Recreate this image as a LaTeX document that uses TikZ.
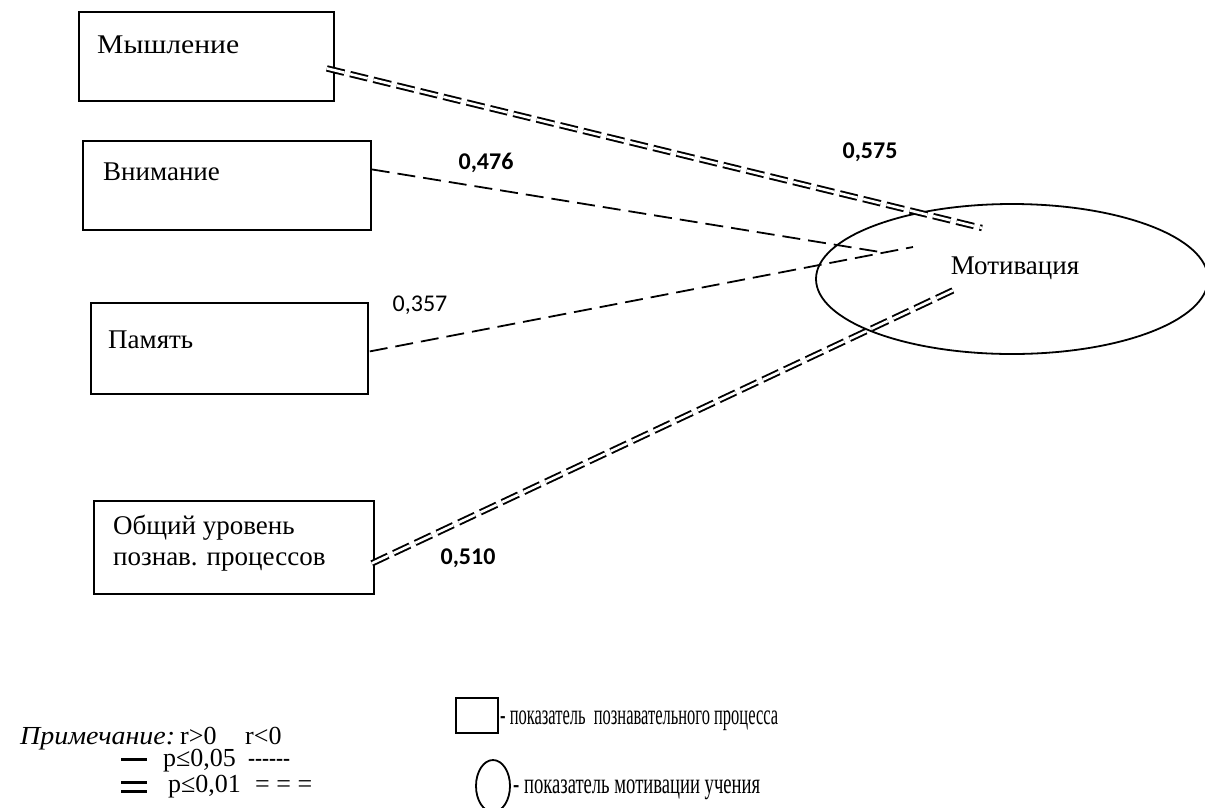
\documentclass[tikz,border=0pt]{standalone}
\usepackage{fontspec}
\setmainfont{Liberation Serif}
\newfontfamily\numfont{Carlito}
\usetikzlibrary{shapes.geometric}
\begin{document}
\begin{tikzpicture}[x=1pt,y=-1pt,
  box/.style={draw,line width=1.8pt,inner sep=0pt,anchor=north west},
  lbl/.style={anchor=west,inner sep=0pt,font=\fontsize{27}{31}\selectfont},
  num/.style={inner sep=0pt,font=\numfont\fontsize{24}{28}\selectfont},
  bnum/.style={inner sep=0pt,font=\numfont\bfseries\fontsize{24}{28}\selectfont},
  leg/.style={anchor=base west,inner sep=0pt,font=\fontsize{26}{28}\selectfont},
  sdash/.style={line width=1.8pt,dash pattern=on 18pt off 8pt},
  ddash/.style={double,double distance=2.6pt,line width=1.9pt,dash pattern=on 18pt off 6pt}]
\useasboundingbox (0,0) rectangle (1205,807);

% boxes
\node[box,minimum width=255pt,minimum height=89pt] (bm) at (78,11) {};
\node[box,minimum width=288pt,minimum height=89pt] (bv) at (82,140) {};
\node[box,minimum width=277pt,minimum height=91pt] (bp) at (90,302) {};
\node[box,minimum width=280pt,minimum height=93pt] (bo) at (93,500) {};

\node[lbl] (tm) at (97,45) {\resizebox{142pt}{\height}{Мышление}};
\node[lbl] (tv) at (103,172) {Внимание};
\node[lbl] (tp) at (108,340) {Память};
\node[lbl,align=left] (to) at (113,543) {Общий уровень\\познав. процессов};

% ellipse
\node[draw,ellipse,line width=1.8pt,minimum width=392pt,minimum height=150pt,inner sep=0pt] (mot) at (1012,279) {};
\node[lbl,anchor=center] (tmot) at (1015,268) {Мотивация};

% connectors
\draw[ddash] ([shift={(-8,12)}]bm.east) -- ([shift={(-30,-51)}]mot.center);
\draw[sdash] ([shift={(0,-16)}]bv.east) -- ([shift={(-132,-27)}]mot.center);
\draw[sdash] ([shift={(1,3)}]bp.east) -- ([shift={(-99,-32)}]mot.center);
\draw[ddash] ([shift={(-3,16)}]bo.east) -- ([shift={(-54,9)}]mot.center);

% coefficients
\node[bnum] (n575) at (870,152) {0,575};
\node[bnum] (n476) at (486,163) {0,476};
\node[num] (n357) at (420,305) {0,357};
\node[bnum] (n510) at (468,558) {0,510};

% legend
\node[leg] (lnote) at (20,744) {\resizebox{155pt}{\height}{\itshape Примечание:}};
\node[leg] (lrp) at (180,744) {r>0};
\node[leg] (lrn) at (245,744) {r<0};
\draw[line width=3pt] (121,759) -- (147,759);
\node[leg] (lp5) at (163,766) {p≤0,05};
\node[leg] (ld5) at (248,766) {\resizebox{42pt}{\height}{-{}-{}-{}-{}-{}-}};
\draw[line width=3pt] (121,782) -- (147,782);
\draw[line width=3pt] (121,791) -- (147,791);
\node[leg] (lp1) at (168,792) {p≤0,01};
\node[leg] (ld1) at (255,792) {= = =};

\node[draw,line width=1.8pt,inner sep=0pt,minimum width=42pt,minimum height=35pt,anchor=north west] (legbox) at (455,697) {};
\node[leg] (lbox) at (500,724) {\resizebox{278pt}{\height}{\fontsize{29}{30}\selectfont - показатель\ \ познавательного процесса}};
\node[draw,ellipse,line width=1.8pt,inner sep=0pt,minimum width=34pt,minimum height=52pt] (legell) at (493,786) {};
\node[leg] (lell) at (513,793) {\resizebox{247pt}{\height}{\fontsize{29}{30}\selectfont - показатель мотивации учения}};
\end{tikzpicture}
\end{document}
